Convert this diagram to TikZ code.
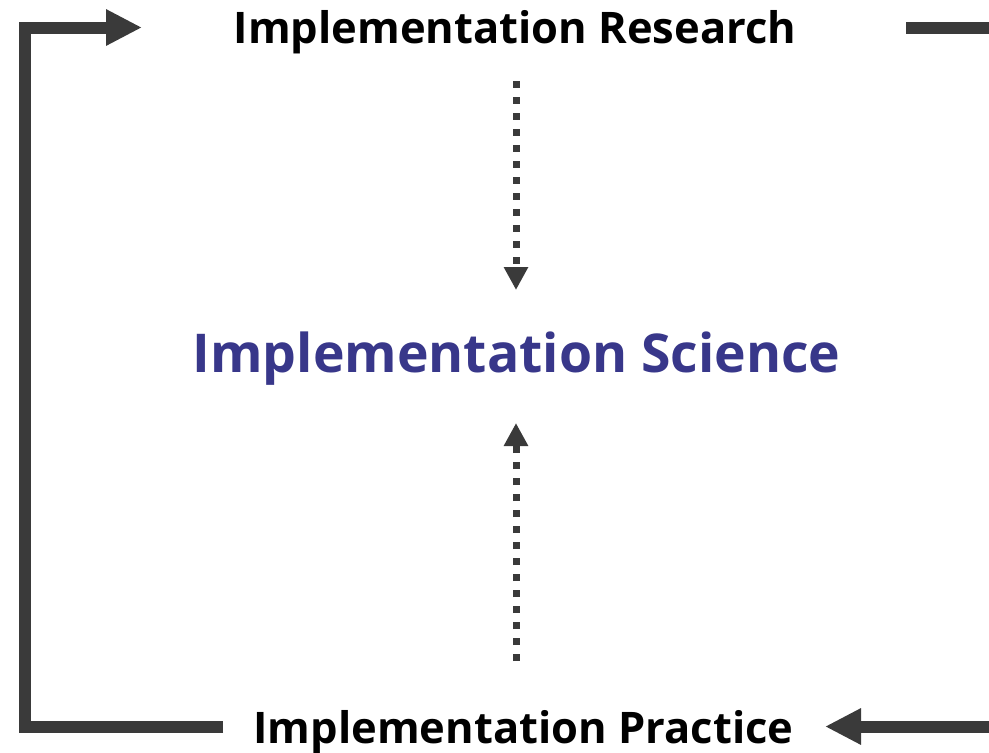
\documentclass[tikz,border=0pt]{standalone}
\usepackage{fontspec}
\setmainfont{Open Sans}[Ligatures=NoCommon]
\usetikzlibrary{arrows.meta}
\definecolor{loopgray}{RGB}{58,58,58}
\definecolor{sciblue}{RGB}{56,55,138}
\tikzset{
  labeltop/.style={anchor=base, inner sep=0pt, font=\bfseries\fontsize{43.5}{52}\selectfont, text=black},
  labelmid/.style={anchor=base, inner sep=0pt, font=\bfseries\fontsize{53.5}{64}\selectfont, text=sciblue},
  loopline/.style={draw=loopgray, line width=12pt, line join=miter, line cap=butt},
  bighead/.style={-{Triangle[length=36pt, width=34pt]}},
  dotline/.style={draw=loopgray, line width=7pt, dash pattern=on 7pt off 9pt, -{Triangle[length=23pt, width=23pt]}}
}
\begin{document}
\begin{tikzpicture}[x=1pt, y=-1pt]
\useasboundingbox (0,0) rectangle (989,753);
\clip (0,0) rectangle (989,753);
\fill[white] (0,0) rectangle (989,753);

\node[labeltop] (research) at (515,43) {Implementation Research};
\node[labelmid] (science) at (516.5,372) {Implementation Science};
\node[labeltop] (practice) at (523.5,743) {Implementation Practice};

% loop coordinates
\coordinate (pl) at (223,726.5);
\coordinate (bl) at (24.5,726.5);
\coordinate (tl) at (24.5,27.5);
\coordinate (rl) at (142,27.5);
\coordinate (rr) at (906,27.5);
\coordinate (tr) at (1010,27.5);
\coordinate (br) at (1010,726.5);
\coordinate (pr) at (825,726.5);

\draw[loopline, bighead] (pl) -- (bl) -- (tl) -- (rl);
\draw[loopline, bighead] (rr) -- (tr) -- (br) -- (pr);

% dotted arrows
\coordinate (d1) at (516,81);
\coordinate (d2) at (516,290);
\coordinate (u1) at (516,661);
\coordinate (u2) at (516,423);
\draw[dotline] (d1) -- (d2);
\draw[dotline] (u1) -- (u2);
\end{tikzpicture}
\end{document}
